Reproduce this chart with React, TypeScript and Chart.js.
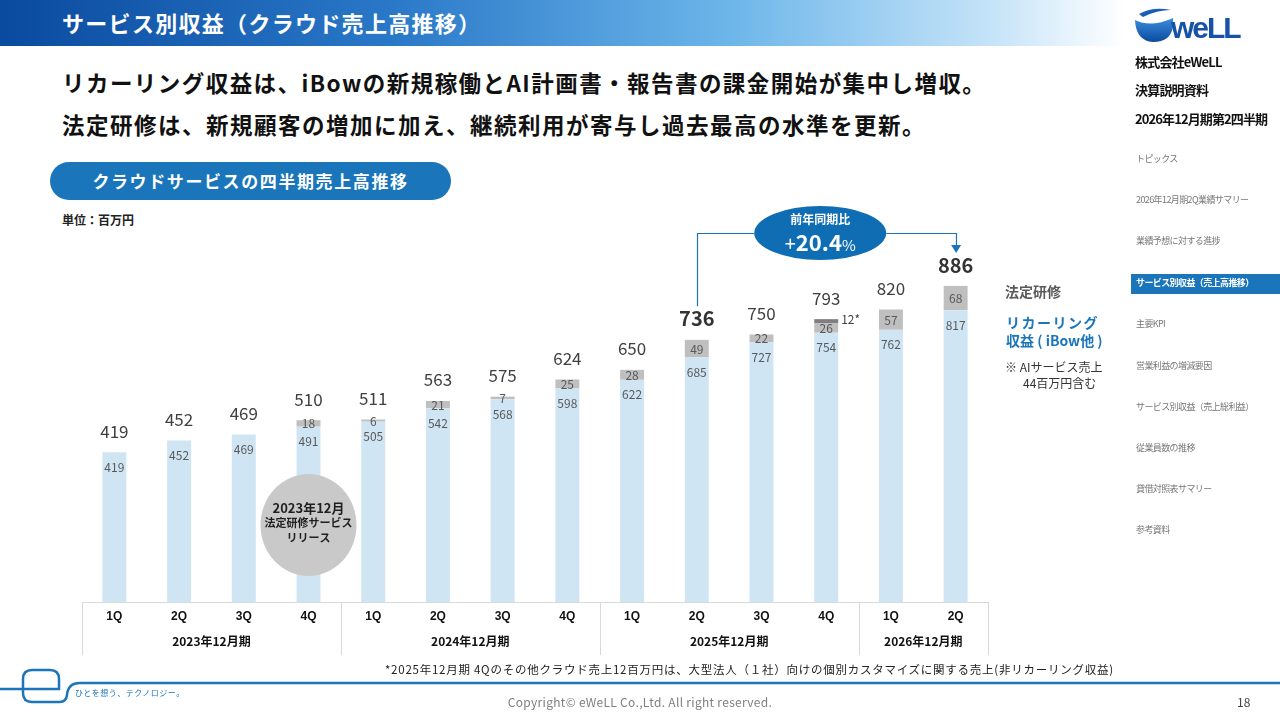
import React, { useEffect, useRef } from "react";
import { Chart, registerables } from "chart.js";

Chart.register(...registerables);

const quarters = ["1Q", "2Q", "3Q", "4Q", "1Q", "2Q", "3Q", "4Q", "1Q", "2Q", "3Q", "4Q", "1Q", "2Q"];
const fiscalYears = ["2023年12月期", "2024年12月期", "2025年12月期", "2026年12月期"];
const yearGroups = [[0, 3], [4, 7], [8, 11], [12, 13]];
const recurring = [419, 452, 469, 491, 505, 542, 568, 598, 622, 685, 727, 754, 762, 817];
const training = [0, 0, 0, 18, 6, 21, 7, 25, 28, 49, 22, 26, 57, 68];
const otherCloud = [0, 0, 0, 0, 0, 0, 0, 0, 0, 0, 0, 12, 0, 0];
const totals = [419, 452, 469, 510, 511, 563, 575, 624, 650, 736, 750, 793, 820, 886];
const boldTotals = [9, 13];
const yoyText = "+20.4%";

const JP = '"Noto Sans CJK JP", "Noto Sans", sans-serif';
const BLUE = "#1a75bb";

const navItems = [
  "トピックス",
  "2026年12月期2Q業績サマリー",
  "業績予想に対する進捗",
  "サービス別収益（売上高推移）",
  "主要KPI",
  "営業利益の増減要因",
  "サービス別収益（売上総利益）",
  "従業員数の推移",
  "貸借対照表サマリー",
  "参考資料",
];

const overlayPlugin = {
  id: "overlay",
  afterDatasetsDraw(chart: any) {
    const ctx = chart.ctx;
    const ys = chart.scales.y;
    const m0 = chart.getDatasetMeta(0).data;
    const m1 = chart.getDatasetMeta(1).data;
    const m2 = chart.getDatasetMeta(2).data;
    ctx.save();
    ctx.textAlign = "center";
    ctx.textBaseline = "middle";
    for (let i = 0; i < quarters.length; i++) {
      const b0 = m0[i];
      ctx.fillStyle = "#595959";
      ctx.font = `12px ${JP}`;
      ctx.fillText(String(recurring[i]), b0.x, b0.y + 15);
      if (training[i] > 0) {
        const b1 = m1[i];
        ctx.fillText(String(training[i]), b1.x, (b1.y + b1.base) / 2 + 0.5);
      }
      if (otherCloud[i] > 0) {
        const b2 = m2[i];
        ctx.textAlign = "left";
        ctx.fillStyle = "#404040";
        ctx.fillText(otherCloud[i] + "*", b2.x + b2.width / 2 + 3, (b2.y + b2.base) / 2 - 2);
        ctx.textAlign = "center";
      }
      const stackTop = ys.getPixelForValue(recurring[i] + training[i] + otherCloud[i]);
      const bold = boldTotals.includes(i);
      ctx.fillStyle = bold ? "#333333" : "#404040";
      ctx.font = bold ? `bold 20px ${JP}` : `17px ${JP}`;
      ctx.fillText(String(totals[i]), b0.x, stackTop - 21);
    }
    ctx.restore();
  },
  afterDraw(chart: any) {
    const ctx = chart.ctx;
    const xs = chart.scales.x;
    const ys = chart.scales.y;
    const area = chart.chartArea;
    ctx.save();
    // x-axis table
    ctx.strokeStyle = "#d9d9d9";
    ctx.lineWidth = 1;
    ctx.beginPath();
    ctx.moveTo(area.left, area.bottom + 0.5);
    ctx.lineTo(area.right, area.bottom + 0.5);
    const verticals = [area.left, area.right];
    for (let g = 0; g < yearGroups.length - 1; g++) {
      verticals.push((xs.getPixelForValue(yearGroups[g][1]) + xs.getPixelForValue(yearGroups[g + 1][0])) / 2);
    }
    verticals.forEach((vx) => {
      ctx.moveTo(Math.round(vx) + 0.5, area.bottom);
      ctx.lineTo(Math.round(vx) + 0.5, area.bottom + 53);
    });
    ctx.stroke();
    ctx.fillStyle = "#111";
    ctx.textAlign = "center";
    ctx.textBaseline = "middle";
    ctx.font = `bold 12px Arial, "Liberation Sans", sans-serif`;
    quarters.forEach((q, i) => ctx.fillText(q, xs.getPixelForValue(i), area.bottom + 15));
    ctx.font = `bold 12px ${JP}`;
    yearGroups.forEach((g, k) => {
      const cx = (xs.getPixelForValue(g[0]) + xs.getPixelForValue(g[1])) / 2;
      ctx.fillText(fiscalYears[k], cx, area.bottom + 39);
    });

    // release circle
    const cx3 = xs.getPixelForValue(3);
    const cy = area.bottom - 77;
    ctx.fillStyle = "#c9c9c9";
    ctx.beginPath();
    ctx.ellipse(cx3, cy, 48, 51, 0, 0, Math.PI * 2);
    ctx.fill();
    ctx.fillStyle = "#1f1f1f";
    ctx.font = `bold 13px ${JP}`;
    ctx.fillText("2023年12月", cx3, cy - 17);
    ctx.font = `bold 11px ${JP}`;
    ctx.fillText("法定研修サービス", cx3, cy - 2);
    ctx.fillText("リリース", cx3, cy + 13);

    // YoY annotation
    const xa = xs.getPixelForValue(9);
    const xb = xs.getPixelForValue(13);
    const ey = 233;
    const ex = (xa + xb) / 2 - 6;
    const rx = 66;
    const ry = 27;
    const startY = ys.getPixelForValue(totals[9]) - 33;
    ctx.strokeStyle = BLUE;
    ctx.lineWidth = 1.2;
    ctx.beginPath();
    ctx.moveTo(Math.round(xa) + 0.5, startY);
    ctx.lineTo(Math.round(xa) + 0.5, ey + 0.5);
    ctx.lineTo(ex - rx, ey + 0.5);
    ctx.moveTo(ex + rx, ey + 0.5);
    ctx.lineTo(Math.round(xb) + 0.5, ey + 0.5);
    ctx.lineTo(Math.round(xb) + 0.5, 246);
    ctx.stroke();
    ctx.fillStyle = BLUE;
    ctx.beginPath();
    ctx.moveTo(xb - 4.5, 245);
    ctx.lineTo(xb + 5.5, 245);
    ctx.lineTo(xb + 0.5, 253);
    ctx.closePath();
    ctx.fill();
    ctx.fillStyle = "#0f6db4";
    ctx.beginPath();
    ctx.ellipse(ex, ey, rx, ry, 0, 0, Math.PI * 2);
    ctx.fill();
    ctx.fillStyle = "#ffffff";
    ctx.font = `bold 12px ${JP}`;
    ctx.fillText("前年同期比", ex, ey - 14);
    const plus = yoyText.slice(0, 1);
    const num = yoyText.slice(1, -1);
    const pct = yoyText.slice(-1);
    ctx.textAlign = "left";
    ctx.font = `20px ${JP}`;
    const wPlus = ctx.measureText(plus).width;
    ctx.font = `bold 22px ${JP}`;
    const wNum = ctx.measureText(num).width;
    ctx.font = `15px ${JP}`;
    const wPct = ctx.measureText(pct).width;
    let tx = ex - (wPlus + wNum + wPct) / 2;
    const ty = ey + 10;
    ctx.font = `20px ${JP}`;
    ctx.fillText(plus, tx, ty);
    tx += wPlus;
    ctx.font = `bold 22px ${JP}`;
    ctx.fillText(num, tx, ty);
    tx += wNum;
    ctx.font = `15px ${JP}`;
    ctx.fillText(pct, tx, ty + 2);
    ctx.restore();
  },
};

function ChartCanvas() {
  const ref = useRef<HTMLCanvasElement | null>(null);
  useEffect(() => {
    if (!ref.current) return;
    const chart = new Chart(ref.current, {
      type: "bar",
      data: {
        labels: quarters,
        datasets: [
          { label: "リカーリング収益（iBow他）", data: recurring, backgroundColor: "#d0e5f4" },
          { label: "法定研修", data: training, backgroundColor: "#bfbfbf" },
          { label: "その他", data: otherCloud, backgroundColor: "#7f7f7f" },
        ],
      },
      options: {
        responsive: false,
        maintainAspectRatio: false,
        animation: false,
        devicePixelRatio: 1,
        layout: { padding: { left: 82, right: 292, top: 202, bottom: 118 } },
        datasets: { bar: { categoryPercentage: 1, barPercentage: 0.37 } },
        scales: {
          x: { display: false, stacked: true },
          y: { display: false, stacked: true, min: 0, max: 1120 },
        },
        plugins: { legend: { display: false }, tooltip: { enabled: false } },
      },
      plugins: [overlayPlugin],
    });
    return () => chart.destroy();
  }, []);
  return (
    <canvas
      ref={ref}
      width={1280}
      height={720}
      style={{ position: "absolute", left: 0, top: 0, width: 1280, height: 720 }}
    />
  );
}

function abs(left: number, top: number, extra: any = {}) {
  return { position: "absolute" as const, left, top, ...extra };
}

export default function App() {
  useEffect(() => {
    document.body.style.margin = "0";
  }, []);
  return (
    <div
      style={{
        position: "fixed",
        left: 0,
        top: 0,
        width: 1280,
        height: 720,
        overflow: "hidden",
        background: "#fff",
        fontFamily: JP,
      }}
    >
      {/* header */}
      <div
        style={abs(0, 0, {
          width: 1125,
          height: 46,
          background: "linear-gradient(90deg, #0a4a9f 0%, #2a78c8 35%, #6db6ea 65%, #c4e3f8 88%, #ffffff 100%)",
        })}
      />
      <div style={abs(62, 5, { color: "#fff", fontSize: 22, fontWeight: 700, lineHeight: "34px", letterSpacing: 1.3, whiteSpace: "nowrap" })}>
        サービス別収益（クラウド売上高推移）
      </div>
      <div style={abs(62, 64, { color: "#111", fontSize: 22.5, fontWeight: 700, lineHeight: "36px", whiteSpace: "nowrap", letterSpacing: 1.45 })}>
        リカーリング収益は、iBowの新規稼働とAI計画書・報告書の課金開始が集中し増収。
      </div>
      <div style={abs(62, 106, { color: "#111", fontSize: 22.5, fontWeight: 700, lineHeight: "36px", whiteSpace: "nowrap", letterSpacing: 1.5 })}>
        法定研修は、新規顧客の増加に加え、継続利用が寄与し過去最高の水準を更新。
      </div>
      <div
        style={abs(50, 162, {
          width: 401,
          height: 38,
          borderRadius: 19,
          background: BLUE,
          color: "#fff",
          fontSize: 17,
          fontWeight: 700,
          lineHeight: "38px",
          textAlign: "center",
          letterSpacing: 1.6,
        })}
      >
        クラウドサービスの四半期売上高推移
      </div>
      <div style={abs(62, 211, { fontSize: 12, fontWeight: 700, color: "#222", lineHeight: "18px" })}>単位：百万円</div>

      <ChartCanvas />

      {/* legend */}
      <div style={abs(1005, 281, { fontSize: 14, fontWeight: 700, color: "#595959", lineHeight: "20px" })}>法定研修</div>
      <div style={abs(1006, 313, { fontSize: 14, fontWeight: 700, color: BLUE, lineHeight: "18px", whiteSpace: "nowrap" })}>
        <span style={{ letterSpacing: 1.5 }}>リカーリング</span>
        <br />
        収益 ( iBow他 )
      </div>
      <div style={abs(1005, 359, { fontSize: 12, color: "#333", lineHeight: "16px", whiteSpace: "nowrap" })}>
        ※ AIサービス売上
        <br />
        <span style={{ paddingLeft: 18 }}>44百万円含む</span>
      </div>

      {/* sidebar */}
      <svg style={abs(1133, 4)} width={120} height={40} viewBox="0 0 120 40">
        <defs>
          <linearGradient id="gl" x1="0" y1="0" x2="0" y2="1">
            <stop offset="0" stopColor="#3b8ee0" />
            <stop offset="1" stopColor="#0b4a9c" />
          </linearGradient>
        </defs>
        <path d="M2 16 Q18 24 40 14 L40 22 Q38 38 20 38 Q3 37 2 16 Z" fill="url(#gl)" />
        <path d="M6 10 Q20 2 38 6 Q24 6 10 13 Z" fill="#1a5fb4" />
        <text x="38" y="34" fontFamily="Arial, sans-serif" fontWeight="700" fontSize="30" fill="#1552a8" letterSpacing="-2">
          weLL
        </text>
      </svg>
      <div style={abs(1135, 53, { fontSize: 13, fontWeight: 700, color: "#111", letterSpacing: -0.8, lineHeight: "18px" })}>
        株式会社eWeLL
      </div>
      <div style={abs(1135, 81, { fontSize: 13, fontWeight: 700, color: "#111", letterSpacing: -0.8, lineHeight: "18px" })}>
        決算説明資料
      </div>
      <div style={abs(1135, 110, { fontSize: 13, fontWeight: 700, color: "#111", letterSpacing: -0.9, lineHeight: "18px", whiteSpace: "nowrap" })}>
        2026年12月期第2四半期
      </div>
      <div style={abs(1131, 274, { width: 149, height: 20, background: BLUE })} />
      {navItems.map((t, i) => {
        const y = [159, 200, 241, 283, 324, 366, 407, 448, 489, 530][i];
        const active = i === 3;
        return (
          <div
            key={i}
            style={abs(1136, y - 7, {
              fontSize: 9,
              fontWeight: active ? 700 : 400,
              color: active ? "#fff" : "#777",
              letterSpacing: -0.6,
              lineHeight: "14px",
              whiteSpace: "nowrap",
            })}
          >
            {t}
          </div>
        );
      })}

      {/* footer */}
      <div style={abs(385, 661, { fontSize: 11.5, color: "#222", lineHeight: "16px", whiteSpace: "nowrap", letterSpacing: 0.75 })}>
        *2025年12月期 4Qのその他クラウド売上12百万円は、大型法人（１社）向けの個別カスタマイズに関する売上(非リカーリング収益)
      </div>
      <svg style={abs(0, 660)} width={1280} height={50} viewBox="0 0 1280 50">
        <path
          d="M0 29 H59 V19 Q59 10 50 10 H32 Q23 10 23 19 V33 Q23 42 32 42 H60 Q66 42 67 35 Q68 23 80 23 H1280"
          fill="none"
          stroke={BLUE}
          strokeWidth={2.5}
        />
      </svg>
      <div style={abs(75, 687, { fontSize: 8, color: BLUE, lineHeight: "12px", letterSpacing: 0.5 })}>ひとを想う、テクノロジー。</div>
      <div style={abs(0, 694, { width: 1280, textAlign: "center", fontSize: 12, color: "#7f7f7f", lineHeight: "16px", letterSpacing: 0.3 })}>
        Copyright© eWeLL Co.,Ltd. All right reserved.
      </div>
      <div style={abs(1237, 694, { fontSize: 12, color: "#444", lineHeight: "16px" })}>18</div>
    </div>
  );
}
